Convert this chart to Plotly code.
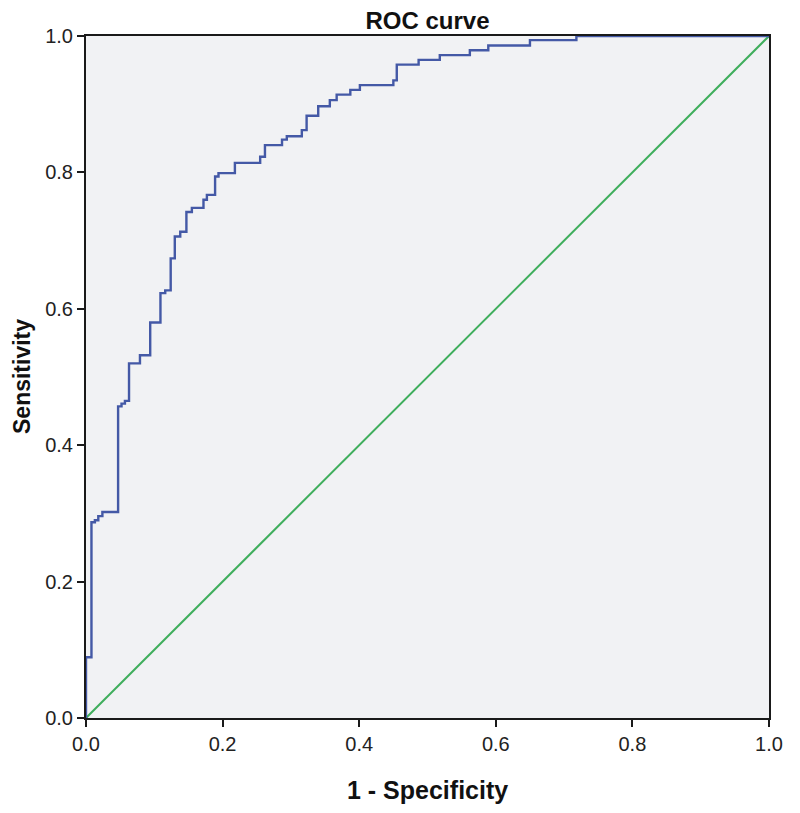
import plotly.graph_objects as go

# ROC curve step vertices (1 - specificity, sensitivity), drawn with 'vh' steps
fpr = [0, 0.008, 0.013, 0.018, 0.024, 0.047, 0.052, 0.057, 0.063, 0.079,
       0.094, 0.109, 0.116, 0.124, 0.130, 0.138, 0.147, 0.155, 0.172, 0.177,
       0.189, 0.194, 0.218, 0.255, 0.262, 0.287, 0.294, 0.316, 0.323, 0.340,
       0.357, 0.367, 0.387, 0.401, 0.450, 0.455, 0.487, 0.518, 0.562, 0.589,
       0.650, 0.718, 1.0]
tpr = [0, 0.089, 0.287, 0.290, 0.296, 0.302, 0.457, 0.461, 0.465, 0.520,
       0.532, 0.580, 0.623, 0.627, 0.674, 0.706, 0.713, 0.742, 0.748, 0.760,
       0.767, 0.794, 0.799, 0.814, 0.823, 0.840, 0.848, 0.853, 0.862, 0.883,
       0.897, 0.906, 0.914, 0.921, 0.928, 0.935, 0.958, 0.965, 0.972, 0.979,
       0.986, 0.994, 1.0]
ref_x = [0, 1]
ref_y = [0, 1]
tick_vals = [0.0, 0.2, 0.4, 0.6, 0.8, 1.0]
tick_text = ["0.0", "0.2", "0.4", "0.6", "0.8", "1.0"]

FONT = "Liberation Sans Narrow, Arial Narrow, Liberation Sans, Arial, sans-serif"

fig = go.Figure()
fig.add_trace(go.Scatter(x=ref_x, y=ref_y, mode="lines",
                         line=dict(color="#3fae5c", width=2), showlegend=False,
                         hoverinfo="skip"))
fig.add_trace(go.Scatter(x=fpr, y=tpr, mode="lines", line_shape="vh",
                         line=dict(color="#4459a6", width=2.4), showlegend=False))

axis_common = dict(range=[0, 1], tickvals=tick_vals, ticktext=tick_text,
                   showgrid=False, zeroline=False, showline=True,
                   linecolor="#1a1a1a", linewidth=2, ticks="outside",
                   ticklen=7, tickwidth=1.5, tickcolor="#1a1a1a",
                   tickfont=dict(family=FONT, size=20, color="#222222"),
                   mirror=True)

fig.update_xaxes(**axis_common)
fig.update_yaxes(**axis_common)

fig.update_layout(
    width=800, height=813,
    margin=dict(l=78, r=39, t=28, b=103),
    paper_bgcolor="white",
    plot_bgcolor="#f1f2f4",
    title=dict(text="<b>ROC curve</b>", x=0.5, xref="paper",
               y=1 - 13 / 813, yref="container", yanchor="middle",
               font=dict(family=FONT, size=24, color="#111111")),
    annotations=[
        dict(text="<b>1 - Specificity</b>", x=0.5, y=0, xref="paper", yref="paper",
             yshift=-72, yanchor="middle", showarrow=False,
             font=dict(family=FONT, size=25, color="#111111")),
        dict(text="<b>Sensitivity</b>", x=0, y=0.5, xref="paper", yref="paper",
             xshift=-64, xanchor="center", textangle=-90, showarrow=False,
             font=dict(family=FONT, size=23, color="#111111")),
    ],
)

fig.write_html("out.html")
